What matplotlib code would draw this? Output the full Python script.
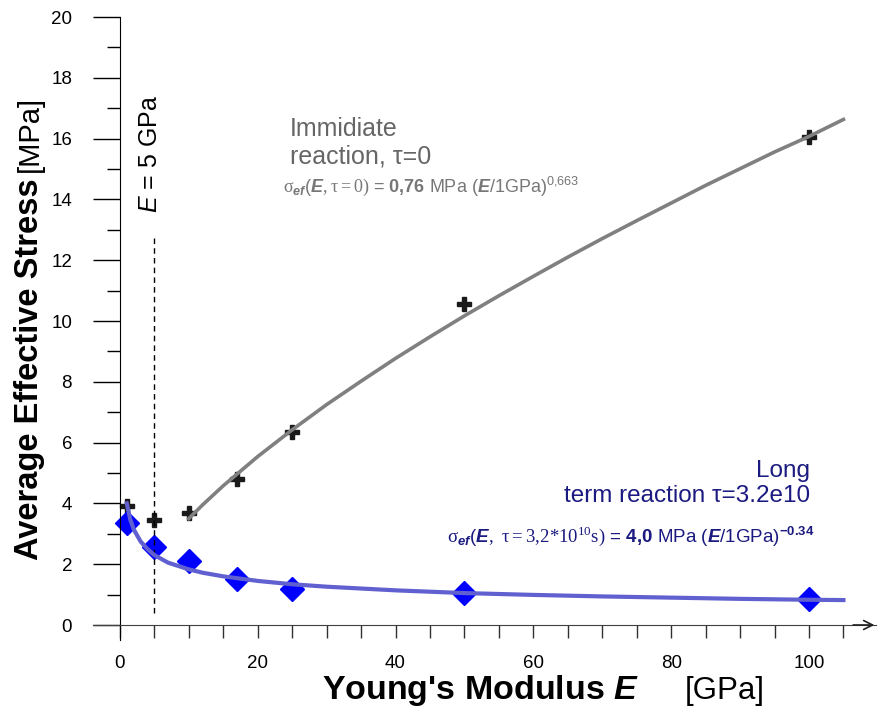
import matplotlib
matplotlib.use("Agg")
import matplotlib.pyplot as plt
from matplotlib.ticker import MultipleLocator

plt.rcParams['font.family'] = ['Liberation Sans', 'DejaVu Sans']
plt.rcParams['mathtext.fontset'] = 'custom'
plt.rcParams['mathtext.rm'] = 'Liberation Serif'
plt.rcParams['mathtext.sf'] = 'Liberation Sans'
plt.rcParams['mathtext.it'] = 'Liberation Sans:italic'
plt.rcParams['mathtext.bf'] = 'Liberation Sans:bold'
plt.rcParams['mathtext.bfit'] = 'Liberation Sans:italic:bold'

# measured points
E_pts = [1, 5, 10, 17, 25, 50, 100]
stress_immediate = [3.9, 3.45, 3.7, 4.8, 6.35, 10.55, 16.05]
stress_long = [3.35, 2.55, 2.1, 1.5, 1.2, 1.05, 0.85]

# fitted curves
E_fit_imm = [10, 12, 15, 20, 25, 30, 35, 40, 45, 50, 55, 60, 65, 70, 75,
             80, 85, 90, 95, 100, 105]
fit_imm = [3.50, 3.95, 4.58, 5.54, 6.42, 7.25, 8.02, 8.77, 9.48, 10.17, 10.83,
           11.47, 12.10, 12.71, 13.30, 13.88, 14.46, 15.01, 15.56, 16.07, 16.63]
E_fit_long = [1, 1.5, 2, 3, 4, 5, 7, 10, 12, 15, 20, 25, 30, 40, 50, 60, 70,
              80, 90, 100, 105]
fit_long = [4.0, 3.48, 3.15, 2.75, 2.5, 2.3, 2.05, 1.83, 1.72, 1.6, 1.45,
            1.34, 1.26, 1.14, 1.05, 0.99, 0.94, 0.9, 0.86, 0.83, 0.82]

W, H = 877, 707
fig = plt.figure(figsize=(W / 100, H / 100), dpi=100)
ax = fig.add_axes([93 / W, (H - 640.2) / H, 783.5 / W, 623.2 / H])
ax.set_xlim(-3.9, 109.8)
ax.set_ylim(-0.5, 20)

ax.plot(E_pts, stress_immediate, linestyle='none', marker='P', markersize=10,
        color='#1a1a1a', zorder=2)
ax.plot(E_pts, stress_long, linestyle='none', marker='D', markersize=12,
        color='#0000ff', zorder=2)
ax.plot(E_fit_imm, fit_imm, color='#808080', lw=2.6, zorder=3)
ax.plot(E_fit_long, fit_long, color='#6060d0', lw=3, zorder=3)

# E = 5 GPa marker line
ax.plot([5, 5], [0.4, 12.8], color='black', lw=1, dashes=(4, 3))
ax.text(4.4, 15.5, '$\\mathit{E}$ = 5 GPa', rotation=90, fontsize=18,
        ha='center', va='center')

# spines
for s in ['top', 'right']:
    ax.spines[s].set_visible(False)
ax.spines['left'].set_position(('data', 0))
ax.spines['bottom'].set_position(('data', 0))
ax.spines['bottom'].set_color('#404040')
ax.annotate('', xy=(109.9, 0), xytext=(106, 0),
            arrowprops=dict(arrowstyle='->', color='#202020', lw=1.2,
                            mutation_scale=16),
            annotation_clip=False)

ax.set_xticks(range(0, 101, 20))
ax.set_xticks(range(0, 106, 5), minor=True)
ax.yaxis.set_major_locator(MultipleLocator(2))
ax.yaxis.set_minor_locator(MultipleLocator(1))
ax.tick_params(axis='x', which='both', direction='out', length=9.4, width=1,
               color='#303030', labelsize=13.5, pad=12)
ax.tick_params(axis='y', which='major', direction='out', length=19.4, width=1,
               labelsize=13.5, pad=15)
ax.tick_params(axis='y', which='minor', direction='out', length=9.4, width=1)

# annotations
ax.text(24.7, 15.86, 'Immidiate\nreaction, \u03c4=0', fontsize=18,
        color='#666666', ha='left', va='center', linespacing=1.2)
ax.text(23.7, 14.44,
        r'$\mathrm{\sigma}_{\mathbfit{ef}}$($\mathbfit{E},\mathrm{\tau{=}0)}$ = $\mathbf{0{,}76}$ MPa ($\mathbfit{E}$/1GPa)$^{\mathsf{0{,}663}}$',
        fontsize=13, color='#777777', ha='left', va='center')
ax.text(100.1, 4.65, 'Long\nterm reaction \u03c4=3.2e10', fontsize=17.5,
        color='#1a1a80', ha='right', va='center', multialignment='right',
        linespacing=1.2)
ax.text(47.5, 2.9,
        r'$\mathrm{\sigma}_{\mathbfit{ef}}$($\mathbfit{E},\ \mathrm{\tau{=}3{,}2{*}10^{10}s)}$ = $\mathbf{4{,}0}$ MPa ($\mathbfit{E}$/1GPa)$^{\mathbf{-0.34}}$',
        fontsize=13.5, color='#1a1a80', ha='left', va='center')

# axis labels
fig.text(322 / W, (H - 699) / H, "Young's Modulus $\\mathbfit{E}$", fontsize=24.5,
         fontweight='bold', ha='left', va='baseline')
fig.text(685 / W, (H - 699) / H, '[GPa]', fontsize=22.5, ha='left', va='baseline')
fig.text(38 / W, (H - 560) / H, 'Average Effective Stress', fontsize=23.5,
         fontweight='bold', rotation=90, rotation_mode='anchor',
         ha='left', va='baseline')
fig.text(38 / W, (H - 172) / H, '[MPa]', fontsize=21, rotation=90,
         rotation_mode='anchor', ha='left', va='baseline')

fig.savefig('out.png', dpi=100)
